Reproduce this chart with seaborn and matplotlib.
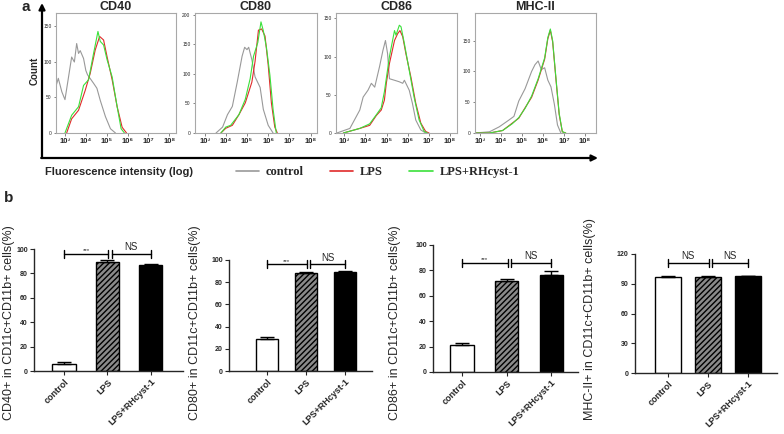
import numpy as np
import matplotlib
matplotlib.use('Agg')
import matplotlib.pyplot as plt
import matplotlib.transforms as mtransforms
import seaborn as sns
from matplotlib.lines import Line2D
from matplotlib.ticker import LogLocator, NullFormatter

sns.set_style('ticks')
plt.rcParams['font.family'] = ['Liberation Sans', 'DejaVu Sans']
plt.rcParams['hatch.linewidth'] = 1.0

W, H = 784, 434

# ---------- panel a: flow histograms (log10 intensity, count) ----------
markers = ['CD40', 'CD80', 'CD86', 'MHC-II']

cd40_ctrl_x = [2.56, 2.68, 2.85, 3.0, 3.15, 3.32, 3.45, 3.56, 3.65, 3.73, 3.89, 4.0, 4.08, 4.25, 4.37, 4.53, 4.69, 4.94, 5.18, 5.42]
cd40_ctrl_y = [65, 77, 58, 47, 75, 107, 100, 126, 112, 116, 105, 88, 82, 75, 70, 63, 46, 23, 6, 0]
cd40_lps_x = [3.08, 3.32, 3.65, 3.97, 4.21, 4.45, 4.66, 4.85, 5.02, 5.26, 5.5, 5.74, 5.95]
cd40_lps_y = [0, 20, 32, 60, 84, 117, 136, 131, 107, 75, 37, 8, 0]
cd40_rh_x = [3.0, 3.32, 3.65, 3.89, 4.13, 4.37, 4.58, 4.69, 4.85, 5.02, 5.26, 5.5, 5.69, 5.85]
cd40_rh_y = [0, 25, 37, 67, 75, 112, 143, 129, 124, 103, 79, 37, 6, 0]

cd80_ctrl_x = [3.54, 3.85, 4.08, 4.31, 4.54, 4.77, 4.89, 5.0, 5.08, 5.23, 5.38, 5.62, 5.77, 6.0, 6.23]
cd80_ctrl_y = [0, 10, 31, 45, 86, 130, 145, 141, 145, 124, 95, 77, 40, 13, 0]
cd80_lps_x = [3.77, 4.0, 4.31, 4.62, 4.92, 5.23, 5.38, 5.54, 5.69, 5.85, 6.0, 6.15, 6.31, 6.43]
cd80_lps_y = [0, 8, 13, 31, 51, 86, 121, 174, 176, 164, 115, 51, 10, 0]
cd80_rh_x = [3.77, 4.0, 4.23, 4.62, 4.92, 5.15, 5.31, 5.51, 5.66, 5.77, 5.92, 6.08, 6.23, 6.38]
cd80_rh_y = [0, 10, 13, 31, 57, 92, 130, 153, 188, 173, 144, 98, 40, 0]

cd86_ctrl_x = [2.64, 3.26, 3.73, 3.89, 4.12, 4.28, 4.44, 4.67, 4.83, 4.95, 5.05, 5.14, 5.38, 5.61, 5.77, 5.85, 6.08, 6.23, 6.39, 6.63, 6.86]
cd86_ctrl_y = [0, 6, 30, 47, 56, 65, 60, 87, 108, 121, 104, 71, 69, 67, 65, 69, 56, 39, 17, 4, 0]
cd86_lps_x = [2.95, 3.73, 4.2, 4.52, 4.75, 4.9, 4.99, 5.14, 5.38, 5.53, 5.64, 5.77, 5.92, 6.16, 6.39, 6.63, 6.86, 7.02]
cd86_lps_y = [0, 6, 10, 23, 30, 43, 65, 91, 121, 130, 134, 126, 104, 73, 39, 13, 2, 0]
cd86_rh_x = [2.95, 3.73, 4.2, 4.52, 4.75, 4.9, 5.14, 5.38, 5.45, 5.61, 5.69, 5.85, 6.08, 6.31, 6.55, 6.79, 6.94]
cd86_rh_y = [0, 6, 12, 24, 33, 54, 100, 134, 128, 141, 139, 117, 82, 47, 17, 2, 0]

mhc_ctrl_x = [2.77, 3.46, 3.92, 4.38, 4.62, 4.85, 5.15, 5.46, 5.62, 5.77, 5.92, 6.08, 6.23, 6.38, 6.54, 6.69, 6.85]
mhc_ctrl_y = [0, 2, 10, 21, 27, 52, 72, 100, 111, 117, 103, 106, 86, 75, 47, 13, 0]
mhc_lps_x = [2.77, 3.46, 4.08, 4.54, 4.85, 5.15, 5.46, 5.77, 6.08, 6.23, 6.35, 6.46, 6.62, 6.77, 6.92, 7.08]
mhc_lps_y = [0, 0, 4, 16, 24, 41, 58, 86, 120, 153, 167, 148, 86, 30, 2, 0]
mhc_rh_x = [2.77, 3.46, 4.08, 4.54, 4.85, 5.15, 5.46, 5.77, 6.08, 6.23, 6.35, 6.46, 6.62, 6.77, 6.92, 7.08]
mhc_rh_y = [0, 0, 4, 15, 25, 40, 60, 88, 122, 155, 169, 150, 88, 32, 2, 0]

hist_series = [
    [(cd40_ctrl_x, cd40_ctrl_y), (cd40_lps_x, cd40_lps_y), (cd40_rh_x, cd40_rh_y)],
    [(cd80_ctrl_x, cd80_ctrl_y), (cd80_lps_x, cd80_lps_y), (cd80_rh_x, cd80_rh_y)],
    [(cd86_ctrl_x, cd86_ctrl_y), (cd86_lps_x, cd86_lps_y), (cd86_rh_x, cd86_rh_y)],
    [(mhc_ctrl_x, mhc_ctrl_y), (mhc_lps_x, mhc_lps_y), (mhc_rh_x, mhc_rh_y)],
]
hist_ymax = [169, 203, 157, 195]
hist_yticks = [[0, 50, 100, 150], [0, 50, 100, 150, 200], [0, 50, 100, 150], [0, 50, 100, 150]]
decades = [3, 4, 5, 6, 7, 8]
sup = {3: '³', 4: '⁴', 5: '⁵', 6: '⁶', 7: '⁷', 8: '⁸'}

groups = ['control', 'LPS', 'LPS+RHcyst-1']
line_colors = ['#999999', '#e02a2a', '#3be03b']

# ---------- panel b: bar charts (% positive, upper SEM) ----------
cd40_pct = [6, 89, 86.5]
cd40_err = [1.5, 2, 1.5]
cd80_pct = [29, 88, 89]
cd80_err = [2, 1.2, 1]
cd86_pct = [21, 72, 76.5]
cd86_err = [2, 1.2, 3]
mhc_pct = [97, 96.5, 97.5]
mhc_err = [1, 1, 0.6]

bar_vals = [cd40_pct, cd80_pct, cd86_pct, mhc_pct]
bar_errs = [cd40_err, cd80_err, cd86_err, mhc_err]
bar_ylabels = ['CD40+ in CD11c+CD11b+ cells(%)', 'CD80+ in CD11c+CD11b+ cells(%)',
               'CD86+ in CD11c+CD11b+ cells(%)', 'MHC-II+ in CD11c+CD11b+ cells(%)']
bar_yticks = [[0, 20, 40, 60, 80, 100]] * 3 + [[0, 30, 60, 90, 120]]
sig_level = [96, 96, 86, 111]
sig_text = [['***', 'NS'], ['***', 'NS'], ['***', 'NS'], ['NS', 'NS']]

# ---------- layout ----------
fig = plt.figure(figsize=(W / 100, H / 100), dpi=100)


def box(l, t, r, b):
    return [l / W, 1 - b / H, (r - l) / W, (b - t) / H]


over = fig.add_axes([0, 0, 1, 1])
over.set_xlim(0, W)
over.set_ylim(H, 0)
over.axis('off')

arrow = dict(arrowstyle='-|>', lw=1.6, color='black', mutation_scale=9, shrinkA=0, shrinkB=0)
over.annotate('', xy=(42, 3), xytext=(42, 158), arrowprops=arrow)
over.annotate('', xy=(598, 158), xytext=(41.2, 158), arrowprops=arrow)
over.text(22, 7, 'a', fontsize=11, fontweight='bold', va='center')
over.text(4, 198, 'b', fontsize=11, fontweight='bold', va='center')
over.text(35, 71, 'Count', fontsize=7, fontweight='bold', rotation=90, ha='center', va='center')
over.text(45, 172, 'Fluorescence intensity (log)', fontsize=8, fontweight='bold', va='center')

handles = [Line2D([], [], color=c, lw=1.2) for c in line_colors]
over.legend(handles, groups, loc='center left', bbox_to_anchor=(236 / W, 1 - 172 / H),
            bbox_transform=fig.transFigure, ncol=3, frameon=False, borderpad=0, borderaxespad=0,
            handlelength=1.85, handletextpad=0.55, columnspacing=2.1,
            prop=dict(family='Liberation Serif', weight='bold', size=9))

hist_boxes = [(56, 13, 176, 133), (195, 13, 317, 133), (336, 13, 457, 133), (475, 13, 596, 133)]
hist_xleft = [2.57, 2.55, 2.6, 2.77]

for i, name in enumerate(markers):
    ax = fig.add_axes(box(*hist_boxes[i]))
    for (lx, cy), col in zip(hist_series[i], line_colors):
        sns.lineplot(x=10 ** np.array(lx), y=cy, ax=ax, color=col, lw=0.8,
                     sort=False, estimator=None)
    ax.set_xscale('log')
    ax.set_xlim(10 ** hist_xleft[i], 10 ** (hist_xleft[i] + 5.75))
    ax.set_ylim(0, hist_ymax[i])
    ax.set_xticks([10.0 ** d for d in decades])
    ax.set_xticklabels(['10' + sup[d] for d in decades], fontsize=5.5, fontweight='bold')
    ax.xaxis.set_minor_locator(LogLocator(base=10, subs=np.arange(2, 10)))
    ax.xaxis.set_minor_formatter(NullFormatter())
    ax.set_yticks(hist_yticks[i])
    ax.set_yticklabels([str(t) for t in hist_yticks[i]], fontsize=3.5)
    ax.tick_params(axis='both', which='major', length=1.8, width=0.5, color='#555', pad=1.5)
    ax.tick_params(axis='x', which='minor', length=1.0, width=0.4, color='#555')
    for s in ax.spines.values():
        s.set_color('#a8a8a8')
        s.set_linewidth(0.8)
    ax.set_title(name, fontsize=9, fontweight='bold', pad=1.5)

bar_boxes = [(34, 249, 183, 371), (229, 260, 372, 371), (433, 245, 578, 372), (635, 254, 777, 373)]
bar_xlims = [(-0.7, 2.75), (-0.97, 2.69), (-0.65, 2.6), (-0.82, 2.72)]
bar_widths = [0.55, 0.55, 0.52, 0.63]
label_x = [9, 195, 395, 590]
label_offset = mtransforms.ScaledTranslation(6 / 100, 2 / 100, fig.dpi_scale_trans)

for i in range(4):
    ax = fig.add_axes(box(*bar_boxes[i]))
    sns.barplot(x=groups, y=bar_vals[i], ax=ax, order=groups, width=bar_widths[i],
                color='white', edgecolor='black', linewidth=1.0, errorbar=None)
    bars = ax.patches
    bars[0].set_facecolor('white')
    bars[1].set_facecolor('#8a8a8a')
    bars[1].set_hatch('//////')
    bars[2].set_facecolor('black')
    ax.errorbar([0, 1, 2], bar_vals[i], yerr=[[0, 0, 0], bar_errs[i]], fmt='none',
                ecolor='black', elinewidth=1.0, capsize=5, capthick=1.0, zorder=3)
    ymax = bar_yticks[i][-1]
    ax.set_ylim(0, ymax)
    ax.set_xlim(*bar_xlims[i])
    ax.set_yticks(bar_yticks[i])
    ax.set_yticklabels([str(t) for t in bar_yticks[i]], fontsize=5, fontweight='bold')
    ax.set_xticks([0, 1, 2])
    ax.set_xticklabels(groups, fontsize=6.5, fontweight='bold', rotation=45,
                       ha='right', rotation_mode='anchor')
    for lab in ax.get_xticklabels():
        lab.set_transform(lab.get_transform() + label_offset)
    ax.set_xlabel('')
    ax.set_ylabel('')
    sns.despine(ax=ax)
    for s in ('left', 'bottom'):
        ax.spines[s].set_linewidth(1.0)
    ax.tick_params(length=3, width=0.8, pad=1.5)

    # significance brackets
    px_per_unit = (bar_boxes[i][3] - bar_boxes[i][1]) / ymax
    cap = 4 / px_per_unit
    y = sig_level[i]
    for (x0, x1), txt in zip([(0, 1.02), (1.1, 2.0)], sig_text[i]):
        ax.plot([x0, x1], [y, y], color='black', lw=1.0, clip_on=False)
        ax.plot([x0, x0], [y - cap, y + cap], color='black', lw=1.0, clip_on=False)
        ax.plot([x1, x1], [y - cap, y + cap], color='black', lw=1.0, clip_on=False)
        if txt == 'NS':
            ax.text((x0 + x1) / 2, y + 0.4 * cap, txt, fontsize=7, ha='center', va='bottom')
        else:
            ax.text((x0 + x1) / 2, y + 0.2 * cap, txt, fontsize=4.5, ha='center', va='bottom')

    over.text(label_x[i], 420, bar_ylabels[i], fontsize=9, rotation=90,
              ha='center', va='bottom')

fig.savefig('out.png', dpi=100)
